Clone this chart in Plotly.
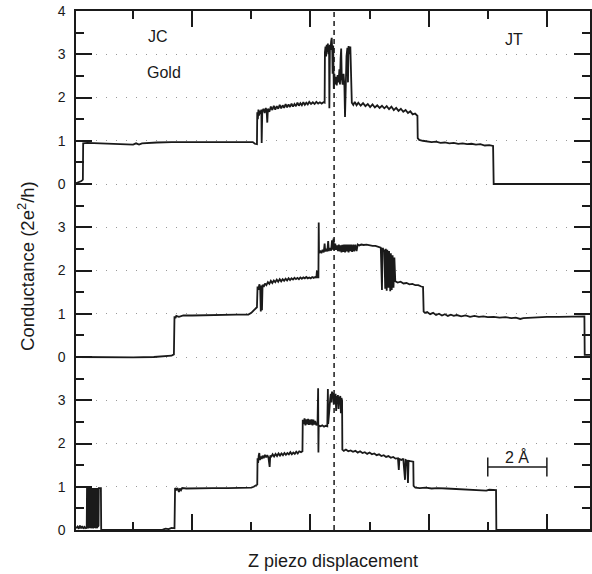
import plotly.graph_objects as go

# x: Z piezo displacement (Å), y: conductance (2e^2/h), each trace in its own units
top_pts = [
    (0.07, 0.02), (0.15, 0.04), (0.25, 0.07), (0.30, 0.10), (0.31, 0.94), (0.45, 0.95), (0.8, 0.94),
    (1.2, 0.93), (1.5, 0.93), (1.8, 0.92), (2.0, 0.91), (2.1, 0.94), (2.2, 0.91), (2.3, 0.94),
    (2.45, 0.95), (2.8, 0.96), (3.3, 0.97), (3.8, 0.97), (4.3, 0.98), (4.8, 0.98), (5.3, 0.98),
    (5.8, 0.97), (6.05, 0.97), (6.12, 0.93), (6.19, 0.92),
    (6.20, 1.66), (6.22, 1.50), (6.24, 1.72), (6.26, 1.58), (6.28, 1.70), (6.31, 1.62), (6.34, 1.72),
    (6.35, 0.95), (6.37, 1.68), (6.41, 1.74), (6.45, 1.64), (6.49, 1.76), (6.52, 1.66), (6.54, 1.42),
    (6.56, 1.74), (6.61, 1.67), (6.66, 1.79), (6.71, 1.71), (6.76, 1.81), (6.81, 1.72), (6.86, 1.80),
    (6.91, 1.74), (6.96, 1.83), (7.01, 1.75), (7.06, 1.82), (7.11, 1.76), (7.16, 1.85), (7.21, 1.77),
    (7.26, 1.84), (7.31, 1.78), (7.36, 1.86), (7.41, 1.79), (7.46, 1.85), (7.51, 1.80), (7.56, 1.88),
    (7.61, 1.81), (7.66, 1.87), (7.71, 1.82), (7.76, 1.89), (7.81, 1.83), (7.86, 1.88), (7.91, 1.84),
    (7.96, 1.90), (8.02, 1.85), (8.08, 1.89), (8.14, 1.85), (8.20, 1.90), (8.26, 1.86), (8.32, 1.89),
    (8.38, 1.86), (8.44, 1.89), (8.48, 1.88),
    (8.49, 3.05), (8.51, 3.18), (8.53, 2.95), (8.55, 3.22), (8.57, 3.05), (8.59, 3.25), (8.61, 3.00),
    (8.63, 3.20), (8.64, 1.75), (8.66, 3.22), (8.68, 3.10), (8.70, 3.30), (8.72, 3.38), (8.74, 3.05),
    (8.75, 2.55), (8.77, 3.20), (8.79, 2.20), (8.81, 2.55), (8.83, 2.30), (8.86, 2.48), (8.89, 2.28),
    (8.92, 2.52), (8.95, 2.35), (8.98, 2.65), (9.00, 2.30), (9.02, 2.90), (9.04, 3.13), (9.06, 2.45),
    (9.09, 2.30), (9.12, 2.55), (9.15, 2.25), (9.17, 1.55), (9.19, 2.40), (9.22, 2.95), (9.25, 3.15),
    (9.27, 2.35), (9.29, 3.19), (9.32, 3.00), (9.35, 3.18), (9.37, 2.45), (9.40, 1.88),
    (9.45, 1.83), (9.50, 1.90), (9.56, 1.82), (9.62, 1.88), (9.70, 1.81), (9.78, 1.87), (9.86, 1.80),
    (9.94, 1.85), (10.02, 1.78), (10.10, 1.84), (10.18, 1.77), (10.26, 1.82), (10.34, 1.76),
    (10.42, 1.81), (10.50, 1.75), (10.58, 1.80), (10.66, 1.73), (10.74, 1.79), (10.82, 1.71),
    (10.90, 1.76), (10.98, 1.69), (11.06, 1.74), (11.14, 1.67), (11.22, 1.71), (11.30, 1.64),
    (11.38, 1.68), (11.46, 1.61), (11.54, 1.63), (11.60, 1.59), (11.62, 1.58),
    (11.63, 1.06), (11.68, 1.02), (11.8, 1.00), (11.95, 0.98), (12.1, 0.97), (12.25, 0.98),
    (12.4, 0.95), (12.55, 0.96), (12.7, 0.94), (12.85, 0.95), (13.0, 0.93), (13.15, 0.94),
    (13.3, 0.92), (13.45, 0.93), (13.6, 0.91), (13.75, 0.92), (13.9, 0.89), (14.05, 0.90),
    (14.18, 0.88), (14.20, 0.0), (15.0, 0.0), (16.0, 0.0), (17.46, 0.0),
]

mid_pts = [
    (0.07, 0.0), (1.0, -0.01), (2.0, -0.01), (2.7, 0.0), (3.0, 0.02), (3.2, 0.04), (3.30, 0.03),
    (3.38, 0.06), (3.40, 0.94), (3.43, 0.90), (3.46, 0.95), (3.55, 0.93), (3.7, 0.96), (4.0, 0.96),
    (4.5, 0.97), (5.0, 0.97), (5.5, 0.98), (5.9, 0.98), (6.0, 1.02), (6.08, 1.08), (6.15, 1.14),
    (6.19, 1.15), (6.21, 1.63), (6.24, 1.55), (6.27, 1.68), (6.30, 1.60), (6.32, 1.05), (6.34, 1.65),
    (6.36, 1.08), (6.38, 1.67), (6.42, 1.62), (6.46, 1.70), (6.51, 1.66), (6.56, 1.73), (6.61, 1.69),
    (6.66, 1.76), (6.71, 1.71), (6.76, 1.77), (6.81, 1.73), (6.86, 1.79), (6.91, 1.74), (6.96, 1.80),
    (7.01, 1.75), (7.06, 1.80), (7.11, 1.76), (7.16, 1.81), (7.21, 1.77), (7.26, 1.82), (7.31, 1.78),
    (7.36, 1.82), (7.41, 1.79), (7.46, 1.83), (7.51, 1.80), (7.56, 1.83), (7.61, 1.80), (7.66, 1.84),
    (7.71, 1.81), (7.76, 1.84), (7.81, 1.82), (7.86, 1.85), (7.91, 1.82), (7.96, 1.84), (8.01, 1.82),
    (8.06, 1.85), (8.11, 1.83), (8.16, 1.85), (8.20, 1.83), (8.22, 2.00), (8.24, 1.84), (8.27, 1.84),
    (8.28, 3.11), (8.29, 2.40), (8.33, 2.46), (8.37, 2.40), (8.41, 2.48), (8.45, 2.42), (8.48, 2.62),
    (8.50, 2.44), (8.54, 2.50), (8.57, 2.44), (8.60, 2.68), (8.62, 2.45), (8.66, 2.52), (8.70, 2.46),
    (8.73, 2.70), (8.75, 2.48), (8.78, 2.74), (8.80, 2.47), (8.84, 2.62), (8.86, 2.48), (8.90, 2.58),
    (8.93, 2.45), (8.96, 2.60), (8.99, 2.44), (9.02, 2.58), (9.05, 2.42), (9.08, 2.59), (9.11, 2.43),
    (9.14, 2.60), (9.17, 2.42), (9.20, 2.60), (9.23, 2.44), (9.26, 2.60), (9.29, 2.42), (9.32, 2.60),
    (9.35, 2.45), (9.38, 2.60), (9.41, 2.43), (9.45, 2.60), (9.48, 2.44), (9.52, 2.60), (9.56, 2.45),
    (9.60, 2.60), (9.65, 2.58), (9.72, 2.60), (9.80, 2.59), (9.90, 2.60), (10.00, 2.58), (10.10, 2.57),
    (10.20, 2.57), (10.30, 2.55), (10.38, 2.53), (10.42, 1.55), (10.44, 2.52), (10.50, 2.45),
    (10.53, 1.58), (10.55, 2.50), (10.58, 1.53), (10.60, 2.48), (10.64, 1.60), (10.66, 2.45),
    (10.70, 1.52), (10.72, 2.40), (10.75, 1.55), (10.78, 2.35), (10.81, 1.60), (10.84, 2.30),
    (10.87, 1.75), (10.95, 1.72), (11.05, 1.74), (11.15, 1.70), (11.25, 1.71), (11.35, 1.68),
    (11.45, 1.69), (11.55, 1.66), (11.65, 1.66), (11.75, 1.63), (11.81, 1.62), (11.83, 1.05),
    (11.88, 1.02), (11.95, 1.04), (12.05, 0.99), (12.15, 1.02), (12.25, 0.97), (12.35, 1.00),
    (12.45, 0.96), (12.55, 0.99), (12.65, 0.95), (12.75, 0.98), (12.85, 0.95), (12.95, 0.97),
    (13.1, 0.94), (13.25, 0.96), (13.4, 0.93), (13.55, 0.95), (13.7, 0.93), (13.85, 0.94),
    (14.0, 0.92), (14.2, 0.93), (14.4, 0.91), (14.6, 0.92), (14.8, 0.90), (14.95, 0.91),
    (15.1, 0.88), (15.2, 0.90), (15.4, 0.91), (15.7, 0.92), (16.0, 0.93), (16.4, 0.93),
    (16.9, 0.94), (17.2, 0.94), (17.27, 0.94), (17.28, 0.05), (17.46, 0.05),
]

bot_pts = [
    (0.07, 0.04), (0.12, 0.08), (0.16, 0.03), (0.20, 0.10), (0.24, 0.04), (0.28, 0.09), (0.32, 0.03),
    (0.36, 0.07), (0.40, 0.04), (0.43, 0.05),
    (0.44, 0.97), (0.45, 0.05), (0.46, 0.97), (0.47, 0.08), (0.48, 0.97), (0.49, 0.04), (0.50, 0.97),
    (0.51, 0.10), (0.52, 0.97), (0.53, 0.05), (0.54, 0.97), (0.55, 0.07), (0.56, 0.97), (0.57, 0.04),
    (0.58, 0.97), (0.59, 0.09), (0.60, 0.97), (0.61, 0.05), (0.62, 0.97), (0.63, 0.06), (0.64, 0.97),
    (0.65, 0.04), (0.66, 0.97), (0.67, 0.08), (0.68, 0.97), (0.69, 0.05), (0.70, 0.97), (0.71, 0.07),
    (0.72, 0.97), (0.73, 0.04), (0.74, 0.97), (0.75, 0.10), (0.76, 0.97), (0.77, 0.05), (0.78, 0.97),
    (0.79, 0.06), (0.80, 0.97), (0.81, 0.08), (0.82, 0.97), (0.83, 0.10), (0.84, 0.97), (0.91, 0.97),
    (0.92, 0.0), (1.5, 0.0), (2.0, -0.01), (2.5, 0.0), (3.0, 0.01), (3.1, 0.03), (3.2, 0.02),
    (3.30, 0.05), (3.40, 0.04), (3.42, 0.97), (3.46, 0.92), (3.50, 0.97), (3.55, 0.88), (3.58, 0.96),
    (3.62, 0.92), (3.66, 0.97), (3.8, 0.96), (4.2, 0.97), (4.7, 0.97), (5.2, 0.97), (5.7, 0.97),
    (6.0, 0.98), (6.08, 1.0), (6.16, 1.03), (6.20, 1.05), (6.21, 1.66), (6.23, 1.55), (6.25, 1.72),
    (6.27, 1.78), (6.29, 1.62), (6.32, 1.70), (6.35, 1.64), (6.38, 1.72), (6.42, 1.66), (6.46, 1.74),
    (6.50, 1.68), (6.54, 1.73), (6.58, 1.67), (6.62, 1.46), (6.64, 1.72), (6.68, 1.70), (6.72, 1.75),
    (6.77, 1.70), (6.82, 1.76), (6.87, 1.71), (6.92, 1.77), (6.97, 1.72), (7.02, 1.77), (7.07, 1.73),
    (7.12, 1.78), (7.17, 1.74), (7.22, 1.78), (7.27, 1.75), (7.32, 1.80), (7.37, 1.75), (7.42, 1.79),
    (7.47, 1.76), (7.52, 1.81), (7.57, 1.77), (7.62, 1.82), (7.68, 1.80), (7.73, 1.82),
    (7.74, 2.55), (7.77, 2.45), (7.80, 2.58), (7.83, 2.42), (7.86, 2.56), (7.89, 2.44), (7.92, 2.57),
    (7.95, 2.43), (7.98, 2.55), (8.01, 2.44), (8.04, 2.56), (8.07, 2.42), (8.10, 2.55), (8.13, 2.44),
    (8.16, 2.52), (8.20, 2.42), (8.24, 2.46), (8.26, 3.28), (8.27, 1.79), (8.28, 2.42), (8.34, 2.40),
    (8.40, 2.42), (8.46, 2.39), (8.52, 2.41), (8.57, 2.40), (8.59, 3.26), (8.60, 2.45), (8.63, 2.62),
    (8.65, 2.86), (8.67, 3.05), (8.69, 3.15), (8.71, 2.95), (8.73, 3.20), (8.75, 3.05), (8.77, 3.17),
    (8.79, 2.90), (8.81, 3.12), (8.83, 3.00), (8.85, 3.15), (8.87, 2.75), (8.89, 3.10), (8.91, 3.00),
    (8.93, 3.12), (8.95, 2.80), (8.97, 3.08), (8.99, 2.95), (9.01, 3.10), (9.03, 2.70), (9.05, 3.05),
    (9.07, 3.00),
    (9.08, 1.86), (9.13, 1.83), (9.20, 1.86), (9.28, 1.82), (9.36, 1.84), (9.44, 1.81), (9.52, 1.83),
    (9.60, 1.79), (9.68, 1.82), (9.76, 1.78), (9.84, 1.80), (9.92, 1.76), (10.00, 1.79), (10.08, 1.75),
    (10.16, 1.77), (10.24, 1.73), (10.32, 1.75), (10.40, 1.71), (10.48, 1.73), (10.56, 1.69),
    (10.64, 1.71), (10.72, 1.67), (10.80, 1.69), (10.88, 1.65), (10.96, 1.66), (10.99, 1.39),
    (11.01, 1.64), (11.08, 1.62), (11.14, 1.65), (11.20, 1.16), (11.22, 1.62), (11.27, 1.60),
    (11.30, 1.09), (11.32, 1.60), (11.38, 1.59), (11.44, 1.58), (11.48, 1.58), (11.49, 1.02),
    (11.55, 0.98), (11.7, 0.97), (11.9, 0.98), (12.1, 0.96), (12.3, 0.97), (12.6, 0.96), (12.9, 0.95),
    (13.2, 0.95), (13.5, 0.94), (13.8, 0.93), (13.95, 0.91), (14.05, 0.93), (14.2, 0.92),
    (14.28, 0.92), (14.29, 0.0), (17.46, 0.0),
]

trace_offsets = [8, 4, 0]          # vertical stacking of the three traces
y_tick_values = list(range(13))
y_tick_labels = ["0", "1", "2", "3", "0", "1", "2", "3", "0", "1", "2", "3", "4"]
x_major_ticks = [4, 8, 12, 16]
x_minor_ticks = [2, 6, 10, 14]
contact_x = 8.80                    # dashed vertical line
scale_bar = (14.0, 16.0)            # 2 Å

FONT = "Liberation Sans, Arial, Helvetica, sans-serif"
INK = "#1a1a1a"

fig = go.Figure()
for pts, off in zip([top_pts, mid_pts, bot_pts], trace_offsets):
    xs = [p[0] for p in pts]
    ys = [p[1] + off for p in pts]
    fig.add_trace(go.Scatter(x=xs, y=ys, mode="lines",
                             line=dict(color=INK, width=1.8), hoverinfo="skip"))

fig.add_shape(type="line", x0=contact_x, x1=contact_x, y0=0, y1=12, xref="x", yref="y",
              line=dict(color=INK, width=1.5, dash="5px,4px"))

# scale bar
sb_y = 1.456
fig.add_shape(type="line", x0=scale_bar[0], x1=scale_bar[1], y0=sb_y, y1=sb_y,
              line=dict(color=INK, width=1.5))
for xv in scale_bar:
    fig.add_shape(type="line", x0=xv, x1=xv, y0=sb_y - 0.22, y1=sb_y + 0.22,
                  line=dict(color=INK, width=1.5))

ann_font = dict(family=FONT, size=16, color=INK)
fig.add_annotation(x=15.0, y=1.69, text="2 Å", showarrow=False, font=ann_font)
fig.add_annotation(x=2.83, y=11.42, text="JC", showarrow=False, font=ann_font)
fig.add_annotation(x=3.03, y=10.57, text="Gold", showarrow=False, font=ann_font)
fig.add_annotation(x=14.90, y=11.34, text="JT", showarrow=False, font=ann_font)

fig.add_annotation(x=0.5, y=-0.0597, xref="paper", yref="paper", text="Z piezo displacement",
                   showarrow=False, xanchor="center", yanchor="middle",
                   font=dict(family=FONT, size=18, color=INK))
fig.add_annotation(x=-0.097, y=0.509, xref="paper", yref="paper",
                   text="Conductance (2e<sup>2</sup>/h)", textangle=-90,
                   showarrow=False, xanchor="center", yanchor="middle",
                   font=dict(family=FONT, size=18.5, color=INK))

fig.update_xaxes(range=[0.0674, 17.459], showline=True, linecolor=INK, linewidth=1.5,
                 mirror="ticks", ticks="inside", tickvals=x_major_ticks, ticklen=16,
                 tickwidth=1.5, tickcolor=INK, showticklabels=False, showgrid=False,
                 zeroline=False,
                 minor=dict(tickvals=x_minor_ticks, ticklen=8, ticks="inside",
                            tickwidth=1.5, tickcolor=INK, showgrid=False))
fig.update_yaxes(range=[0, 12], showline=True, linecolor=INK, linewidth=1.5,
                 mirror="ticks", ticks="inside", tickvals=y_tick_values,
                 ticktext=y_tick_labels, ticklen=16, tickwidth=1.5, tickcolor=INK,
                 tickfont=dict(family=FONT, size=14, color=INK), ticklabelstandoff=6,
                 showgrid=True, gridcolor="#999999", griddash="1px,9px", gridwidth=1,
                 zeroline=False,
                 minor=dict(tickvals=[v + 0.5 for v in range(12)], ticklen=8,
                            ticks="inside", tickwidth=1.5, tickcolor=INK, showgrid=False))

fig.update_layout(width=592, height=574, margin=dict(l=76, r=0, t=11, b=44),
                  plot_bgcolor="white", paper_bgcolor="white", showlegend=False)

fig.write_html("out.html", config={"displayModeBar": False},
               post_script="document.body.style.margin='0';"
                           "document.body.style.overflow='hidden';")
